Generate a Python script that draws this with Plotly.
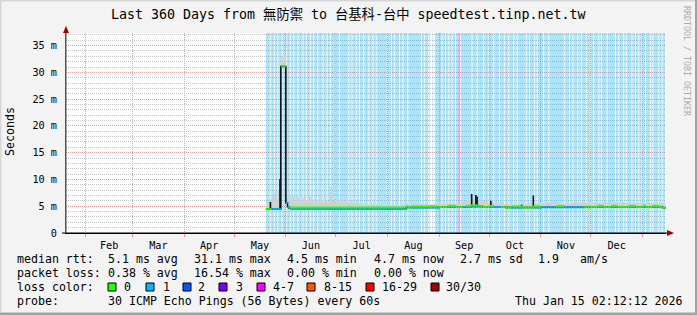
import pandas as pd
import plotly.graph_objects as go

# ---------------- data ----------------
first_day = "2025-05-20"          # first daily bin with data
x_start = "2025-01-20 02:12:12"   # graph covers the last 360 days
x_end = "2026-01-15 02:12:12"
y_max = 37.35                      # ms at top of plot

y_ticks = [0, 5, 10, 15, 20, 25, 30, 35]
y_tick_text = ["0", "5 m", "10 m", "15 m", "20 m", "25 m", "30 m", "35 m"]

# daily median rtt (ms)
median_may = [4.5, 4.5, 4.5, 4.5, 4.5, 4.5, 4.5, 4.5, 4.5, 31.1, 31.1, 31.1]
median_jun = [5.6, 4.9, 4.6, 4.55, 4.55, 4.55, 4.55, 4.55, 4.55, 4.55,
              4.55, 4.55, 4.55, 4.55, 4.55, 4.55, 4.55, 4.55, 4.55, 4.55,
              4.55, 4.55, 4.55, 4.55, 4.55, 4.55, 4.55, 4.55, 4.55, 4.55]
median_jul = [4.55, 4.55, 4.55, 4.55, 4.55, 4.55, 4.55, 4.55, 4.55, 4.55,
              4.55, 4.55, 4.55, 4.55, 4.55, 4.55, 4.55, 4.55, 4.55, 4.55,
              4.55, 4.55, 4.55, 4.55, 4.55, 4.55, 4.55, 4.55, 4.55, 4.55, 4.55]
median_aug = [4.55, 4.55, 4.55, 4.55, 4.55, 4.55, 4.55, 4.55, 4.55, 4.55,
              4.55, 4.75, 4.75, 4.75, 4.75, 4.75, 4.75, 4.75, 4.75, 4.75,
              4.75, 4.75, 4.75, 4.75, 4.75, 4.75, 4.75, 4.75, 4.75, 4.75, 4.75]
median_sep = [4.85, 4.85, 4.85, 4.85, 4.85, 4.85, 4.85, 4.85, 4.85, 4.85,
              4.85, 4.85, 4.85, 4.85, 4.85, 4.85, 4.85, 4.85, 4.85, 4.95,
              4.95, 4.95, 4.95, 4.95, 4.95, 4.95, 4.85, 4.85, 4.85, 4.85]
median_oct = [4.85, 4.85, 4.85, 4.85, 4.85, 4.85, 4.85, 4.85, 4.85, 4.85,
              4.75, 4.75, 4.75, 4.75, 4.75, 4.75, 4.75, 4.75, 4.75, 4.75,
              4.75, 4.75, 4.75, 4.75, 4.75, 4.75, 4.75, 4.75, 4.75, 4.75, 4.75]
median_nov = [4.8, 4.8, 4.8, 4.8, 4.8, 4.8, 4.8, 4.8, 4.8, 4.8,
              4.8, 4.8, 4.8, 4.8, 4.8, 4.8, 4.8, 4.8, 4.8, 4.8,
              4.8, 4.8, 4.8, 4.8, 4.8, 4.8, 4.8, 4.8, 4.8, 4.8]
median_dec = [4.85, 4.85, 4.85, 4.85, 4.85, 4.85, 4.85, 4.85, 4.85, 4.85,
              4.85, 4.85, 4.85, 4.85, 4.85, 4.85, 4.85, 4.85, 4.85, 4.85,
              4.85, 4.85, 4.85, 4.85, 4.85, 4.85, 4.85, 4.85, 4.85, 4.85, 4.85]
median_jan = [4.85, 4.85, 4.85, 4.85, 4.85, 4.85, 4.85, 4.85, 4.85, 4.85,
              4.85, 4.85, 4.7, 4.7]
median_ms = (median_may + median_jun + median_jul + median_aug + median_sep
             + median_oct + median_nov + median_dec + median_jan)

# daily top of the grey "smoke" (ms)
smoke_may = [5.3, 5.8, 6.4, 6.0, 6.8, 7.6, 6.2, 8.0, 7.4, 33.0, 32.5, 33.2]
smoke_jun = [7.0, 6.2, 6.8, 6.0, 6.9, 5.8, 6.4, 7.1, 6.0, 5.7,
             6.5, 6.9, 5.9, 6.2, 6.8, 5.8, 6.0, 6.6, 5.7, 6.3,
             7.2, 6.1, 5.8, 6.4, 6.0, 5.7, 8.6, 7.4, 6.0, 5.8]
smoke_jul = [6.2, 5.8, 6.4, 5.9, 6.0, 5.7, 6.3, 5.8, 5.6, 6.1,
             5.7, 5.5, 5.9, 5.4, 5.6, 5.3, 5.5, 5.2, 5.4, 5.3,
             5.2, 5.5, 5.3, 5.2, 5.4, 5.2, 5.3, 5.2, 5.4, 5.2, 5.3]
smoke_aug = [5.2, 5.3, 5.2, 5.4, 5.2, 5.3, 5.2, 5.2, 5.4, 5.3,
             5.2, 5.5, 5.4, 5.3, 5.5, 5.4, 5.3, 5.4, 5.6, 5.3,
             5.4, 5.3, 5.5, 5.3, 5.4, 5.3, 5.4, 5.3, 5.5, 5.4, 5.4]
smoke_sep = [5.5, 5.4, 5.6, 5.5, 5.4, 5.5, 5.7, 5.5, 5.6, 5.4,
             5.6, 5.8, 5.6, 5.7, 5.9, 6.0, 5.8, 6.2, 6.0, 6.4,
             6.6, 6.2, 6.5, 6.0, 6.3, 5.9, 6.1, 5.8, 6.0, 5.7]
smoke_oct = [5.9, 6.1, 5.8, 5.6, 5.7, 5.5, 5.6, 5.4, 5.5, 5.4,
             5.3, 5.4, 5.3, 5.4, 5.3, 5.5, 5.3, 5.4, 5.3, 5.4,
             5.5, 5.3, 5.4, 5.6, 5.5, 5.7, 5.5, 5.4, 5.6, 5.5, 5.6]
smoke_nov = [5.5, 5.6, 5.4, 5.7, 5.8, 5.6, 6.1, 5.7, 5.6, 5.8,
             5.5, 5.6, 5.4, 5.5, 5.4, 5.5, 5.6, 5.4, 5.5, 5.6,
             6.0, 5.6, 5.7, 5.5, 5.6, 5.8, 5.7, 5.6, 5.5, 5.6]
smoke_dec = [5.5, 5.7, 5.6, 5.8, 5.6, 5.5, 5.7, 5.6, 5.8, 5.7,
             5.6, 5.9, 5.7, 5.6, 5.8, 5.6, 5.7, 5.5, 5.6, 5.8,
             5.6, 5.5, 5.7, 5.6, 5.5, 5.6, 5.5, 5.7, 5.6, 5.5, 5.6]
smoke_jan = [5.5, 5.6, 5.5, 5.7, 5.6, 5.5, 5.6, 5.8, 5.6, 5.5,
             5.9, 5.6, 5.5, 5.4]
smoke_top_ms = (smoke_may + smoke_jun + smoke_jul + smoke_aug + smoke_sep
                + smoke_oct + smoke_nov + smoke_dec + smoke_jan)

# daily loss colour of the median line: 0 = green, 1 = blue, 2 = both visible
median_loss = "".join("""
000111111000
1122222222 2222222222 2222222222
2222222222 2222222222 2222222222 2
2222222222 2200222222 2222222222 2
0000022222 0000112222 2222000000
2221111000 0002222222 0000002222 2
1111111112 2222111111 1111110000
0000222200 0022220000 0002222000 0
2200002222 0000
""".split())

# 12-hour loss background bins: 0 = none, 1 = one lost, 4 = 4-7 lost
loss_bg_12h = "".join("""
11111 01111 01110 11110 1111
01111 01110 11110 11111 01110 11110 11101 11101 11110 11110 11101 11110
11110 11111 11111 01110 11110 11101 11101 11110 11110 11101 11111 11111 10
11110 11101 11110 11101 11110 11111 11111 11111 01110 11110 10001 00111 11
11101 11011 10111 01110 11144 01111 11111 11110 11111 01111 11101 11110
11111 01111 11011 11101 11101 11110 11101 11111 11110 11101 11110 11011 11
11101 11110 11111 11111 11111 11101 11110 11101 11110 11101 11110 11110
11101 11110 11011 11110 11111 11110 11101 11110 11011 11110 11101 11011 10
11101 11110 11011 11110 11101 110
""".split())

# single dark ping spikes
spike_times = ["2025-05-22 18:00", "2025-05-28 12:00", "2025-09-20 12:00",
               "2025-09-23 00:00", "2025-09-23 18:00", "2025-10-02 00:00",
               "2025-10-20 12:00", "2025-10-27 12:00"]
spike_top_ms = [5.8, 10.1, 7.3, 7.1, 6.8, 6.0, 5.3, 7.0]

title = "Last 360 Days from 無防禦 to 台基科-台中 speedtest.tinp.net.tw"
loss_labels = ["0", "1", "2", "3", "4-7", "8-15", "16-29", "30/30"]
loss_colors = ["#26ff00", "#00b8ff", "#0059ff", "#7e00ff", "#ff00ff",
               "#ff5500", "#ff0000", "#a00000"]
bg_colors = {"1": "rgba(0,170,240,0.32)", "4": "rgba(255,0,255,0.42)"}

# ---------------- styling constants ----------------
W, H = 697, 315
L, R, T, B = 66, 31, 33, 82
PW, PH = W - L - R, H - T - B
MONO = "DejaVu Sans Mono, Noto Sans CJK TC"
MAJOR = "#f09a9a"
MINOR = "#c4c4c4"
GREEN, BLUE = loss_colors[0], loss_colors[1]


def fx(xp):
    return (xp - L) / PW


def fy(yp):
    return (T + PH - yp) / PH


fig = go.Figure()

# ---- loss background bars (runs of equal loss) ----
bins = pd.date_range(first_day, periods=len(loss_bg_12h), freq="12h")
half = pd.Timedelta(hours=12)
bx, bw, bc = [], [], []
k = 0
while k < len(loss_bg_12h):
    c = loss_bg_12h[k]
    n = 1
    while k + n < len(loss_bg_12h) and loss_bg_12h[k + n] == c:
        n += 1
    if c in bg_colors:
        bx.append(bins[k] + half * n / 2)
        bw.append((half * n).total_seconds() * 1000)
        bc.append(bg_colors[c])
    k += n
fig.add_trace(go.Bar(x=bx, y=[y_max] * len(bx), width=bw, marker_color=bc,
                     marker_line_width=0, hoverinfo="skip"))

# ---- smoke ----
days = list(pd.date_range(first_day, periods=len(median_ms), freq="D"))
one = pd.Timedelta(days=1)
xs_step = days + [days[-1] + one]
fig.add_trace(go.Scatter(x=xs_step, y=median_ms + [median_ms[-1]], mode="lines",
                         line=dict(width=0, shape="hv"), hoverinfo="skip"))
fig.add_trace(go.Scatter(x=xs_step, y=smoke_top_ms + [smoke_top_ms[-1]], mode="lines",
                         line=dict(width=0, shape="hv"), fill="tonexty",
                         fillcolor="#d0d0d0", hoverinfo="skip"))

# ---- black step line of the median (shows vertical transitions) ----
fig.add_trace(go.Scatter(x=xs_step, y=median_ms + [median_ms[-1]], mode="lines",
                         line=dict(width=1.5, shape="hv", color="#000000"),
                         hoverinfo="skip"))

# ---- spikes ----
sx, sy = [], []
for t, top in zip(spike_times, spike_top_ms):
    ts = pd.Timestamp(t)
    base = median_ms[(ts - pd.Timestamp(first_day)).days]
    sx += [ts, ts, None]
    sy += [base, top, None]
fig.add_trace(go.Scatter(x=sx, y=sy, mode="lines", line=dict(width=1.6, color="#111111"),
                         hoverinfo="skip"))

# ---- coloured median segments ----
gx, gy, blx, bly = [], [], [], []
for d, m, c in zip(days, median_ms, median_loss):
    if c in "12":
        blx += [d, d + one, None]
        bly += [m, m, None]
    if c == "0":
        gx += [d, d + one, None]
        gy += [m, m, None]
    if c == "2":
        gx += [d, d + one, None]
        gy += [m + 0.22, m + 0.22, None]
fig.add_trace(go.Scatter(x=blx, y=bly, mode="lines", line=dict(width=2, color=BLUE),
                         hoverinfo="skip"))
fig.add_trace(go.Scatter(x=gx, y=gy, mode="lines", line=dict(width=2, color=GREEN),
                         hoverinfo="skip"))

fig.update_layout(
    width=W, height=H, margin=dict(l=L, r=R, t=T, b=B, pad=0),
    paper_bgcolor="#f3f3f3", plot_bgcolor="#ffffff", showlegend=False,
    barmode="overlay", hovermode=False,
    font=dict(family=MONO, size=10, color="#000000"),
    xaxis=dict(type="date", range=[x_start, x_end], dtick="M1", tick0="2025-02-01",
               tickformat="%b", ticklabelmode="period", showgrid=True,
               gridcolor=MAJOR, griddash="1px,1px", gridwidth=1,
               ticks="outside", ticklen=3, tickcolor=MAJOR,
               showline=True, linecolor="#000000", linewidth=1, zeroline=False,
               tickfont=dict(family=MONO, size=10.2)),
    yaxis=dict(range=[0, y_max], tickvals=y_ticks, ticktext=y_tick_text,
               showgrid=True, gridcolor=MAJOR, griddash="1px,1px",
               minor=dict(dtick=1, tick0=0, showgrid=True, gridcolor=MINOR,
                          griddash="1px,1px"),
               zeroline=False, showline=True, linecolor="#555555", linewidth=1,
               ticks="", ticklabelstandoff=6,
               tickfont=dict(family=MONO, size=10.2)),
)

# ---- frame, axis extensions and arrows ----
fig.add_shape(type="rect", xref="paper", yref="paper", x0=fx(695), x1=fx(697),
              y0=fy(315), y1=fy(0), fillcolor="#a3a3a3", line_width=0)
fig.add_shape(type="rect", xref="paper", yref="paper", x0=fx(0), x1=fx(697),
              y0=fy(315), y1=fy(312.5), fillcolor="#a3a3a3", line_width=0)
fig.add_shape(type="rect", xref="paper", yref="paper", x0=fx(0), x1=fx(1.5),
              y0=fy(312.5), y1=fy(0), fillcolor="#d6d6d6", line_width=0)
fig.add_shape(type="rect", xref="paper", yref="paper", x0=fx(0), x1=fx(695),
              y0=fy(1.5), y1=fy(0), fillcolor="#d6d6d6", line_width=0)
fig.add_shape(type="line", xref="paper", yref="paper", x0=fx(62), x1=fx(668),
              y0=fy(233), y1=fy(233), line=dict(color="#000000", width=1))
fig.add_shape(type="line", xref="paper", yref="paper", x0=fx(66), x1=fx(66),
              y0=fy(233), y1=fy(29), line=dict(color="#555555", width=1))
fig.add_shape(type="path", xref="paper", yref="paper",
              path=f"M {fx(63)},{fy(33)} L {fx(69)},{fy(33)} L {fx(66)},{fy(26)} Z",
              fillcolor="#a00000", line=dict(width=0))
fig.add_shape(type="path", xref="paper", yref="paper",
              path=f"M {fx(667)},{fy(230)} L {fx(667)},{fy(236)} L {fx(674)},{fy(233)} Z",
              fillcolor="#a00000", line=dict(width=0))


def txt(x, y, s, size=11.6, anchor="left", color="#000000", angle=0):
    fig.add_annotation(x=fx(x), y=fy(y), xref="paper", yref="paper", text=s,
                       showarrow=False, xanchor=anchor, yanchor="middle",
                       borderpad=0, textangle=angle,
                       font=dict(family=MONO, size=size, color=color))


txt(348.5, 15, title, size=13.3, anchor="center")
txt(10, 132, "Seconds", size=11.6, anchor="center", angle=-90)
txt(687, 61, "RRDTOOL / TOBI OETIKER", size=8.3, anchor="center", color="#ababab", angle=90)

row1, row2, row3, row4 = 259.3, 273.3, 287.3, 301
txt(16, row1, "median rtt:")
txt(107, row1, "5.1 ms avg")
txt(193, row1, "31.1 ms max")
txt(286, row1, "4.5 ms min")
txt(373, row1, "4.7 ms now")
txt(459, row1, "2.7 ms sd")
txt(537, row1, "1.9")
txt(579, row1, "am/s")

txt(16, row2, "packet loss:")
txt(107, row2, "0.38 % avg")
txt(193, row2, "16.54 % max")
txt(286, row2, "0.00 % min")
txt(373, row2, "0.00 % now")

txt(16, row3, "loss color:")
box_x = [108, 146, 183, 219, 257, 307, 366, 431]
label_x = [123, 162, 197, 235, 272, 323, 381, 445]
for bxp, lx, lab, col in zip(box_x, label_x, loss_labels, loss_colors):
    fig.add_shape(type="rect", xref="paper", yref="paper", x0=fx(bxp), x1=fx(bxp + 8),
                  y0=fy(291), y1=fy(283), fillcolor=col,
                  line=dict(color="#000000", width=1))
    txt(lx, row3, lab)

txt(16, row4, "probe:")
txt(107, row4, "30 ICMP Echo Pings (56 Bytes) every 60s")
txt(514, row4, "Thu Jan 15 02:12:12 2026")

fig.write_html("out.html")
